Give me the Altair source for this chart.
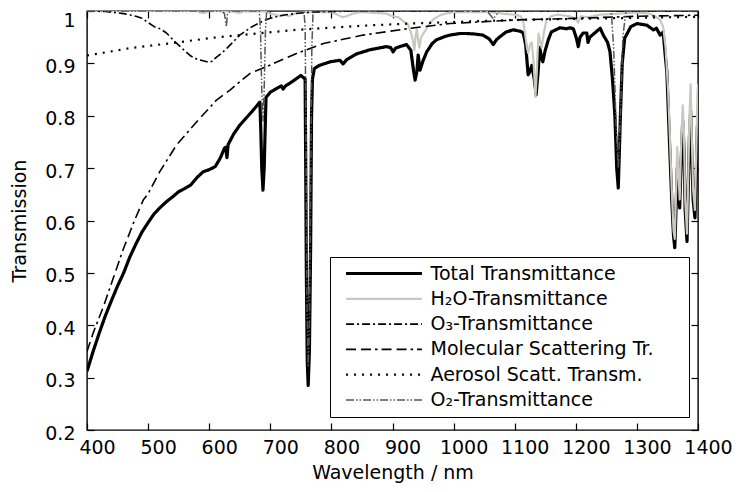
import altair as alt
import pandas as pd

# ---------------- data ----------------
wl_total = [400, 410, 420, 430, 440, 450, 460, 470, 480, 490, 500, 510, 520, 530, 540, 550, 560, 570, 580, 590,
            600, 610, 618, 625, 627, 629, 631, 640, 650, 660, 670, 680, 683, 684.5, 686, 688, 690, 691.5, 693, 700,
            710, 718, 721, 725, 737, 750, 757, 758, 759, 760.5, 762, 764, 766, 767.5, 769, 772, 780, 798, 814, 819,
            825, 841, 863, 890, 897, 901, 905, 912, 923, 930, 934, 937, 940, 942, 945, 950, 956, 965, 972, 985,
            994, 1010, 1021, 1035, 1048, 1058, 1065, 1070, 1076, 1086, 1098, 1110, 1114, 1118, 1122, 1125, 1128,
            1132, 1135, 1138, 1141, 1144, 1146, 1150, 1155, 1160, 1174, 1185, 1190, 1196, 1201, 1204, 1207, 1212,
            1218, 1220, 1223, 1228, 1240, 1245, 1252, 1256, 1260, 1264, 1267, 1269.5, 1271, 1273, 1276, 1280, 1290,
            1300, 1316, 1327, 1332, 1338, 1343, 1346, 1349, 1354, 1357, 1360, 1362, 1364, 1366, 1368, 1370, 1372,
            1375, 1377, 1379, 1382, 1384, 1386, 1388, 1390, 1392, 1395, 1397, 1399, 1400]
t_total = [0.312, 0.350, 0.385, 0.418, 0.447, 0.475, 0.500, 0.530, 0.555, 0.578, 0.596, 0.613, 0.625, 0.636,
           0.645, 0.655, 0.661, 0.668, 0.682, 0.693, 0.697, 0.703, 0.719, 0.738, 0.740, 0.720, 0.745, 0.765, 0.782,
           0.795, 0.808, 0.822, 0.826, 0.770, 0.700, 0.658, 0.700, 0.770, 0.835, 0.845, 0.852, 0.857, 0.851, 0.857,
           0.866, 0.877, 0.870, 0.700, 0.500, 0.330, 0.285, 0.350, 0.550, 0.800, 0.870, 0.890, 0.896, 0.903, 0.906,
           0.899, 0.907, 0.918, 0.926, 0.932, 0.930, 0.922, 0.929, 0.932, 0.936, 0.925, 0.890, 0.868, 0.885, 0.916,
           0.887, 0.905, 0.922, 0.938, 0.945, 0.951, 0.954, 0.957, 0.957, 0.956, 0.954, 0.947, 0.936, 0.945, 0.951,
           0.960, 0.964, 0.961, 0.958, 0.935, 0.878, 0.885, 0.896, 0.870, 0.840, 0.880, 0.930, 0.910, 0.903, 0.925,
           0.945, 0.960, 0.968, 0.966, 0.968, 0.966, 0.948, 0.932, 0.950, 0.958, 0.958, 0.940, 0.950, 0.955, 0.967,
           0.954, 0.940, 0.922, 0.870, 0.800, 0.700, 0.662, 0.720, 0.800, 0.900, 0.948, 0.970, 0.976, 0.973, 0.964,
           0.967, 0.954, 0.960, 0.920, 0.884, 0.730, 0.640, 0.570, 0.548, 0.620, 0.700, 0.660, 0.624, 0.700, 0.790,
           0.740, 0.620, 0.560, 0.660, 0.760, 0.810, 0.720, 0.640, 0.605, 0.680, 0.780, 0.700]

wl_h2o = [400, 580, 585, 592, 600, 640, 650, 655, 690, 700, 718, 725, 730, 740, 750, 760, 800, 810, 818, 825, 835,
          850, 890, 900, 910, 918, 925, 930, 933, 936, 938, 940, 942, 944, 947, 950, 955, 960, 968, 980, 1000, 1060,
          1080, 1100, 1110, 1114, 1117, 1120, 1122, 1125, 1128, 1131, 1134, 1136, 1139, 1142, 1144, 1148, 1152,
          1160, 1170, 1190, 1200, 1204, 1208, 1220, 1240, 1300, 1320, 1330, 1338, 1343, 1347, 1351, 1354, 1357,
          1360, 1362, 1364, 1366, 1368, 1370, 1372, 1375, 1377, 1379, 1382, 1384, 1386, 1388, 1390, 1392, 1395,
          1397, 1399, 1400]
t_h2o = [1.0, 1.0, 0.997, 0.996, 1.0, 0.999, 0.996, 0.999, 0.999, 0.995, 0.990, 0.993, 0.990, 0.995, 0.997, 0.998,
         0.998, 0.993, 0.988, 0.990, 0.995, 0.998, 0.995, 0.990, 0.988, 0.980, 0.975, 0.960, 0.945, 0.925, 0.955,
         0.965, 0.945, 0.930, 0.950, 0.956, 0.965, 0.975, 0.985, 0.993, 0.998, 0.998, 0.995, 0.993, 0.990, 0.980,
         0.957, 0.930, 0.920, 0.935, 0.940, 0.900, 0.836, 0.880, 0.957, 0.940, 0.930, 0.960, 0.983, 0.990, 0.993,
         0.990, 0.985, 0.978, 0.990, 0.988, 0.993, 0.997, 0.995, 0.990, 0.983, 0.970, 0.930, 0.850, 0.760, 0.660,
         0.580, 0.565, 0.650, 0.740, 0.690, 0.640, 0.730, 0.820, 0.770, 0.640, 0.575, 0.680, 0.800, 0.860, 0.750,
         0.660, 0.620, 0.720, 0.840, 0.860]

wl_o3 = [400, 430, 460, 480, 490, 500, 510, 520, 530, 540, 550, 560, 570, 580, 590, 600, 605, 610, 620, 630, 640,
         650, 660, 670, 680, 690, 700, 720, 740, 770, 800, 850, 1400]
t_o3 = [1.0, 0.999, 0.995, 0.990, 0.986, 0.978, 0.970, 0.966, 0.958, 0.946, 0.935, 0.924, 0.914, 0.908, 0.905,
        0.902, 0.904, 0.910, 0.919, 0.930, 0.942, 0.954, 0.962, 0.970, 0.976, 0.982, 0.986, 0.992, 0.995, 0.998,
        0.999, 1.0, 1.0]

wl_mol = [400, 410, 427, 443, 459, 476, 492, 500, 519, 547, 580, 612, 634, 650, 667, 700, 743, 787, 852, 929, 994,
          1103, 1201, 1300, 1400]
t_mol = [0.350, 0.385, 0.436, 0.490, 0.544, 0.595, 0.639, 0.651, 0.693, 0.745, 0.789, 0.830, 0.849, 0.865, 0.881,
         0.897, 0.919, 0.938, 0.954, 0.967, 0.976, 0.983, 0.986, 0.990, 0.992]

wl_aer = [400, 470, 541, 607, 650, 743, 852, 929, 1000, 1100, 1200, 1300, 1400]
t_aer = [0.915, 0.929, 0.939, 0.949, 0.954, 0.964, 0.972, 0.976, 0.979, 0.983, 0.985, 0.987, 0.989]

wl_o2 = [400, 620, 625, 628, 630, 635, 682, 684, 686, 688, 690, 692, 694, 755, 757, 758.5, 760, 762, 764, 766, 768,
         770, 1055, 1065, 1075, 1258, 1262, 1266, 1269.5, 1273, 1277, 1282, 1400]
t_o2 = [1.0, 1.0, 0.995, 0.970, 0.995, 1.0, 1.0, 0.960, 0.850, 0.790, 0.850, 0.960, 1.0, 1.0, 0.970, 0.750, 0.450,
        0.320, 0.400, 0.650, 0.930, 1.0, 1.0, 0.985, 1.0, 1.0, 0.930, 0.780, 0.700, 0.800, 0.950, 1.0, 1.0]

names = ["Total Transmittance", "H\u2082O-Transmittance", "O\u2083-Transmittance",
         "Molecular Scattering Tr.", "Aerosol Scatt. Transm.", "O\u2082-Transmittance"]
wls = [wl_total, wl_h2o, wl_o3, wl_mol, wl_aer, wl_o2]
vals = [t_total, t_h2o, t_o3, t_mol, t_aer, t_o2]

x_ticks = [400, 500, 600, 700, 800, 900, 1000, 1100, 1200, 1300, 1400]
y_ticks = [0.2, 0.3, 0.4, 0.5, 0.6, 0.7, 0.8, 0.9, 1.0]

# ---------------- styles ----------------
line_colors = ["#000000", "#c9c8c0", "#000000", "#000000", "#000000", "#555555"]
line_dashes = [[1, 0], [1, 0], [8, 3, 2, 3], [10, 5, 10, 4, 2.5, 4], [2, 6], [8, 2, 1.5, 2, 1.5, 2]]
line_widths = [3.2, 2.2, 1.6, 1.6, 2.2, 1.5]

FONT = "DejaVu Sans"
FS = 19

xscale = alt.Scale(domain=[400, 1400], nice=False, zero=False)
yscale = alt.Scale(domain=[0.2, 1.0], nice=False, zero=False)

common_axis = dict(domain=False, grid=False, tickSize=7, offset=-7, tickColor="black", tickWidth=1.2)

x_axis = alt.Axis(orient="bottom", values=x_ticks, format="d", labelFont=FONT, labelFontSize=FS,
                  labelColor="black", labelPadding=8, labelOffset=10, labelFlush=False, labelOverlap=False,
                  title="Wavelength / nm", titleFont=FONT, titleFontSize=FS, titleFontWeight="normal",
                  titleColor="black", titlePadding=6, **common_axis)
# the top label "1" is nudged down a little so that it stays inside the page
y_axis = alt.Axis(orient="left", values=y_ticks, format=".1~f", labelFont=FONT, labelFontSize=FS,
                  labelColor="black", labelPadding=12,
                  labelOffset={"condition": {"test": "datum.value >= 0.99", "value": 9}, "value": 3},
                  labelFlush=False, labelOverlap=False,
                  title="Transmission", titleFont=FONT, titleFontSize=FS, titleFontWeight="normal",
                  titleColor="black", titlePadding=15, **common_axis)
top_axis = alt.Axis(orient="top", values=x_ticks, labels=False, title=None, **common_axis)
right_axis = alt.Axis(orient="right", values=y_ticks, labels=False, title=None, **common_axis)

# interior no-break spaces (kept by Vega's trim thanks to the final zero-width char) widen the legend box
legend = alt.Legend(orient="none", legendX=243, legendY=246, title=None, symbolType="M-8,0H8", symbolSize=90,
                    symbolOffset=37.5, labelOffset=37, padding=7, rowPadding=5.3, strokeColor="black",
                    fillColor="white", labelFont=FONT, labelFontSize=FS, labelColor="black", labelLimit=500,
                    labelExpr="datum.label + '\u00a0\u00a0\u00a0\u00a0\u2009\u200b'")

color = alt.Color("series:N", scale=alt.Scale(domain=names, range=line_colors), legend=legend)
dash = alt.StrokeDash("series:N", scale=alt.Scale(domain=names, range=line_dashes), legend=legend)
width = alt.StrokeWidth("series:N", scale=alt.Scale(type="ordinal", domain=names, range=line_widths), legend=legend)

layers = []
for i, name in enumerate(names):
    df = pd.DataFrame({"wl": wls[i], "T": vals[i], "series": name})
    layers.append(
        alt.Chart(df).mark_line(strokeJoin="round", clip=True).encode(
            x=alt.X("wl:Q", scale=xscale, axis=x_axis if i == 0 else None),
            y=alt.Y("T:Q", scale=yscale, axis=y_axis if i == 0 else None),
            color=color, strokeDash=dash, strokeWidth=width,
        )
    )

axis_layer = alt.Chart(pd.DataFrame({"wl": wl_total, "T": t_total})).mark_line(opacity=0).encode(
    x=alt.X("wl:Q", scale=xscale, axis=top_axis),
    y=alt.Y("T:Q", scale=yscale, axis=right_axis),
)

chart = alt.layer(*layers, axis_layer).resolve_axis(x="independent", y="independent").properties(
    width=611, height=419,
    padding={"left": 79, "top": 3, "right": 35, "bottom": 54},
    autosize=alt.AutoSizeParams(type="none"),
    background="white",
).configure_view(stroke="black", strokeWidth=1.4)

chart.save("out.html", embed_options={"renderer": "svg", "actions": False})
